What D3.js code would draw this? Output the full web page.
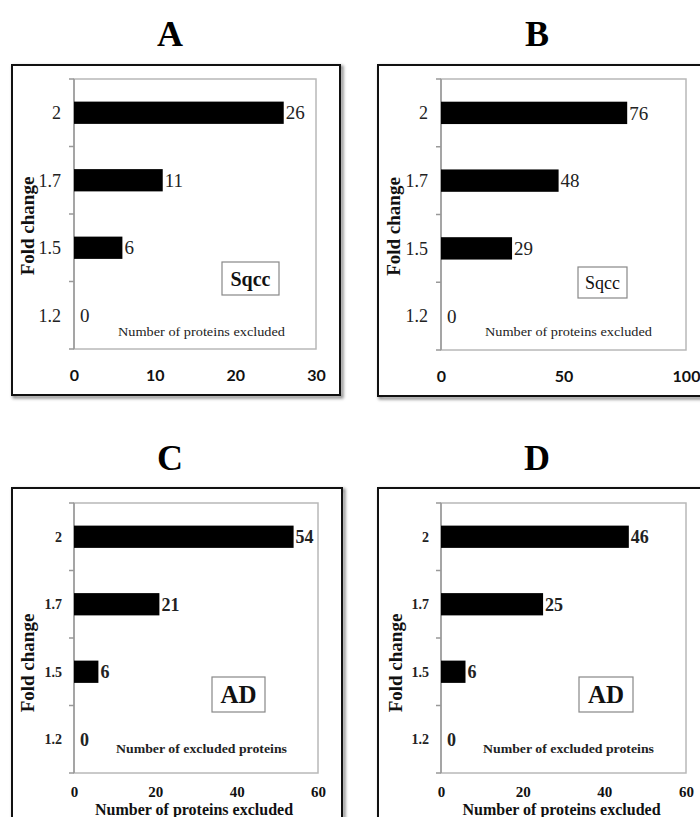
<!DOCTYPE html>
<html>
<head>
<meta charset="utf-8">
<script src="https://cdn.jsdelivr.net/npm/d3@7"></script>
<style>
  body { margin: 0; background: #fff; }
  svg { display: block; }
</style>
</head>
<body>
<div id="chart"></div>
<script>
document.addEventListener("DOMContentLoaded", function() {

  // fold change categories, top to bottom
  const foldChanges = ["2", "1.7", "1.5", "1.2"];

  // number of proteins excluded per panel
  const valuesA = [26, 11, 6, 0];
  const valuesB = [76, 48, 29, 0];
  const valuesC = [54, 21, 6, 0];
  const valuesD = [46, 25, 6, 0];

  const ticksA = [0, 10, 20, 30];
  const ticksB = [0, 50, 100];
  const ticksC = [0, 20, 40, 60];
  const ticksD = [0, 20, 40, 60];

  const panelTitles = ["A", "B", "C", "D"];
  const tagLabels = ["Sqcc", "Sqcc", "AD", "AD"];

  const serif = "'Liberation Serif', 'Times New Roman', serif";
  const sans = "Lato, 'Open Sans', sans-serif";

  const svg = d3.select("#chart").append("svg")
      .attr("width", 700)
      .attr("height", 817);

  const defs = svg.append("defs");
  defs.append("filter").attr("id", "shadow")
      .attr("x", "-5%").attr("y", "-5%").attr("width", "115%").attr("height", "115%")
      .append("feGaussianBlur").attr("stdDeviation", 1.5);

  const panels = [
    { values: valuesA, ticks: ticksA, max: 30, titleX: 170, titleY: 33,
      frame: [12, 65, 328, 330], plot: [74, 79, 242, 270], style: "top", tagBold: true,
      tagBox: [148, 183, 57, 33], foldY: 12, foldX: -47 },
    { values: valuesB, ticks: ticksB, max: 100, titleX: 537, titleY: 33,
      frame: [378, 65, 360, 331], plot: [441, 79, 245, 271], style: "top", tagBold: false,
      tagBox: [137, 188, 49, 31], foldY: 12, foldX: -48 },
    { values: valuesC, ticks: ticksC, max: 60, titleX: 170, titleY: 457,
      frame: [12, 488, 330, 400], plot: [74, 503, 244, 270], style: "bottom", tagBold: true,
      tagBox: [138, 174, 53, 35], foldY: 25, foldX: -47 },
    { values: valuesD, ticks: ticksD, max: 60, titleX: 537, titleY: 457,
      frame: [378, 488, 360, 400], plot: [441, 503, 245, 270], style: "bottom", tagBold: true,
      tagBox: [138, 174, 54, 35], foldY: 25, foldX: -46 }
  ];

  panels.forEach((p, i) => drawPanel(p, panelTitles[i], tagLabels[i]));

  function drawPanel(p, title, tag) {
    const [fx, fy, fw, fh] = p.frame;
    const [px, py, pw, ph] = p.plot;
    const isTop = p.style === "top";

    // panel letter
    svg.append("text")
        .attr("x", p.titleX).attr("y", p.titleY)
        .attr("dy", "0.35em")
        .attr("text-anchor", "middle")
        .style("font-family", serif)
        .style("font-weight", "bold")
        .style("font-size", "36px")
        .text(title);

    // outer frame with shadow
    svg.append("rect")
        .attr("x", fx + 2).attr("y", fy + 2)
        .attr("width", fw).attr("height", fh)
        .attr("fill", "none")
        .attr("stroke", "#888")
        .attr("stroke-width", 3)
        .attr("filter", "url(#shadow)");
    svg.append("rect")
        .attr("x", fx).attr("y", fy)
        .attr("width", fw).attr("height", fh)
        .attr("fill", "#fff")
        .attr("stroke", "#111")
        .attr("stroke-width", 2);

    const g = svg.append("g").attr("transform", `translate(${px},${py})`);

    const x = d3.scaleLinear().domain([0, p.max]).range([0, pw]);
    const y = d3.scaleBand().domain(foldChanges).range([0, ph]).padding(0);

    // plot area border
    g.append("rect")
        .attr("width", pw).attr("height", ph)
        .attr("fill", "none")
        .attr("stroke", "#b8b8b8")
        .attr("stroke-width", 1.5);

    // left axis with ticks on band edges
    const edges = foldChanges.map(d => y(d)).concat([ph]);
    g.append("line")
        .attr("x1", 0).attr("x2", 0).attr("y1", 0).attr("y2", ph)
        .attr("stroke", "#999").attr("stroke-width", 1.5);
    g.selectAll(".ytick").data(edges).enter().append("line")
        .attr("x1", -5).attr("x2", 0)
        .attr("y1", d => d).attr("y2", d => d)
        .attr("stroke", "#999").attr("stroke-width", 1.5);

    // y tick labels
    g.selectAll(".ylabel").data(foldChanges).enter().append("text")
        .attr("x", isTop ? -13 : -12)
        .attr("y", d => y(d) + y.bandwidth() / 2)
        .attr("dy", "0.35em")
        .attr("text-anchor", "end")
        .style("font-family", serif)
        .style("font-weight", isTop ? "normal" : "bold")
        .style("font-size", isTop ? "18px" : "14px")
        .attr("fill", "#222")
        .text(d => d);

    // bars
    const barH = y.bandwidth() * 0.33;
    const rows = foldChanges.map((f, k) => ({ f: f, v: p.values[k] }));
    g.selectAll(".bar").data(rows).enter().append("rect")
        .attr("x", 0)
        .attr("y", d => y(d.f) + (y.bandwidth() - barH) / 2)
        .attr("width", d => x(d.v))
        .attr("height", barH)
        .attr("fill", "#000");

    g.selectAll(".val").data(rows).enter().append("text")
        .attr("x", d => x(d.v) + (d.v === 0 ? 6 : 2))
        .attr("y", d => y(d.f) + y.bandwidth() / 2)
        .attr("dy", "0.35em")
        .style("font-family", serif)
        .style("font-weight", isTop ? "normal" : "bold")
        .style("font-size", isTop ? "19px" : "18px")
        .attr("fill", "#222")
        .text(d => d.v);

    // tag box
    const [bx, by, bw, bh] = p.tagBox;
    g.append("rect")
        .attr("x", bx).attr("y", by).attr("width", bw).attr("height", bh)
        .attr("fill", "#fff")
        .attr("stroke", "#888")
        .attr("stroke-width", 1.2);
    g.append("text")
        .attr("x", bx + bw / 2).attr("y", by + bh / 2)
        .attr("dy", "0.35em")
        .attr("text-anchor", "middle")
        .style("font-family", serif)
        .style("font-weight", p.tagBold ? "bold" : "normal")
        .style("font-size", isTop ? (p.tagBold ? "20px" : "18px") : "25px")
        .attr("fill", "#111")
        .text(tag);

    // inner caption
    g.append("text")
        .attr("x", isTop ? 44 : 42)
        .attr("y", isTop ? 257 : 250)
        .attr("textLength", isTop ? 167 : 171)
        .attr("lengthAdjust", "spacingAndGlyphs")
        .style("font-family", serif)
        .style("font-weight", isTop ? "normal" : "bold")
        .style("font-size", "13px")
        .attr("fill", "#222")
        .text(isTop ? "Number of proteins excluded" : "Number of excluded proteins");

    // x axis labels
    const xAxis = d3.axisBottom(x).tickValues(p.ticks).tickSize(0).tickPadding(0);
    const ax = g.append("g")
        .attr("transform", `translate(0,${ph + (isTop ? 21 : 13)})`)
        .call(xAxis);
    ax.select(".domain").remove();
    ax.selectAll("text")
        .style("font-family", isTop ? sans : serif)
        .style("font-weight", "bold")
        .style("font-size", isTop ? "16px" : "15px")
        .attr("fill", "#111");

    if (!isTop) {
      g.append("text")
          .attr("x", pw / 2 - 2)
          .attr("y", ph + 42)
          .attr("text-anchor", "middle")
          .style("font-family", serif)
          .style("font-weight", "bold")
          .style("font-size", "16px")
          .attr("fill", "#111")
          .text("Number of proteins excluded");
    }

    // y axis title
    g.append("text")
        .attr("transform", `translate(${p.foldX},${ph / 2 + p.foldY}) rotate(-90)`)
        .attr("dy", "0.35em")
        .attr("text-anchor", "middle")
        .style("font-family", serif)
        .style("font-weight", "bold")
        .style("font-size", "19px")
        .attr("fill", "#111")
        .text("Fold change");
  }
});
</script>
</body>
</html>
